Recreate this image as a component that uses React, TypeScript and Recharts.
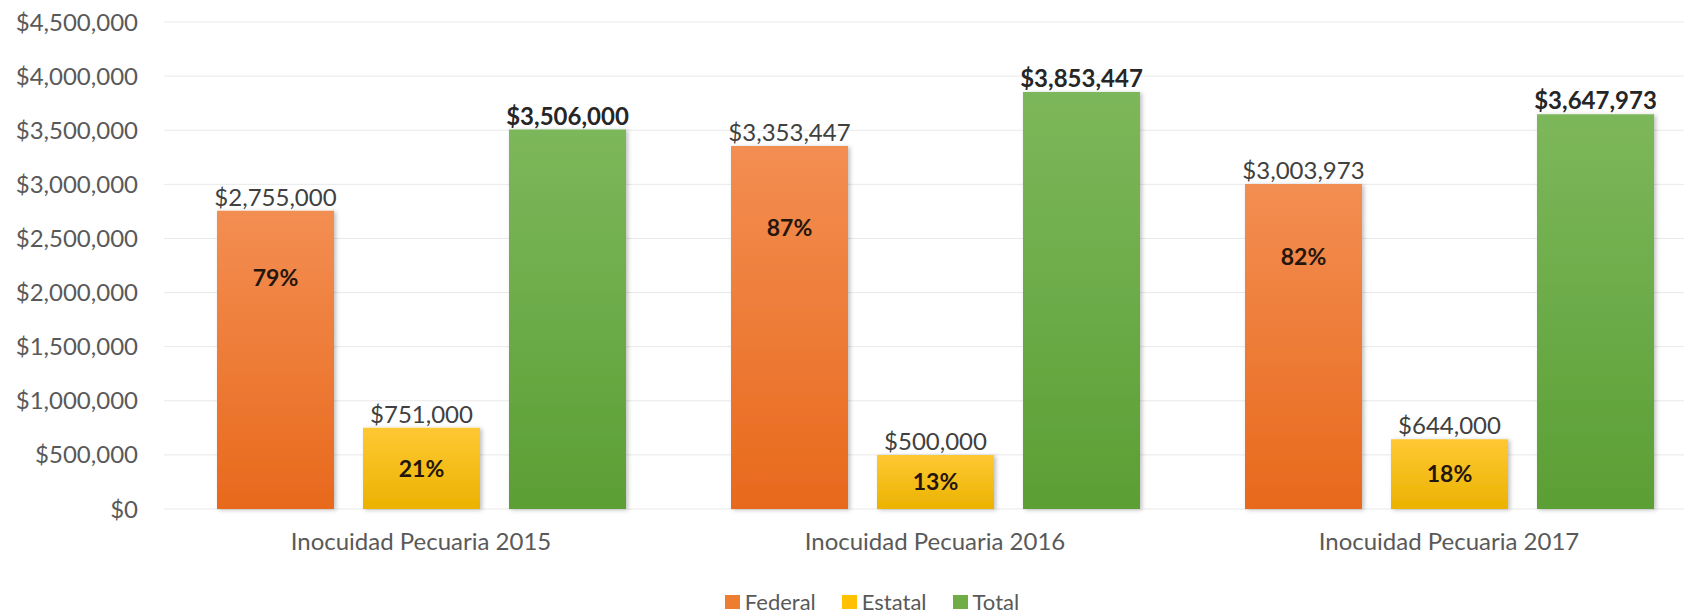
import { Bar, BarChart, CartesianGrid, LabelList, Legend, XAxis, YAxis } from 'recharts'

const categories = ['Inocuidad Pecuaria 2015', 'Inocuidad Pecuaria 2016', 'Inocuidad Pecuaria 2017']
const federal = [2755000, 3353447, 3003973]
const estatal = [751000, 500000, 644000]
const total = [3506000, 3853447, 3647973]
const federalPct = ['79%', '87%', '82%']
const estatalPct = ['21%', '13%', '18%']
const yTicks = [0, 500000, 1000000, 1500000, 2000000, 2500000, 3000000, 3500000, 4000000, 4500000]

const data = categories.map((name, i) => ({
  name,
  federal: federal[i],
  estatal: estatal[i],
  total: total[i],
  federalPct: federalPct[i],
  estatalPct: estatalPct[i],
}))

const FONT = 'Lato, "Noto Sans", sans-serif'
const GREY = '#595959'

const SERIES = [
  { key: 'federal', label: 'Federal', color: '#ED7D31' },
  { key: 'estatal', label: 'Estatal', color: '#FFC000' },
  { key: 'total', label: 'Total', color: '#70AD47' },
]

const money = (v: number) => '$' + Number(v).toLocaleString('en-US')

// value on top of each bar; totals are bold
const topLabel = (bold: boolean) => (props: any) => {
  const x = Number(props.x)
  const y = Number(props.y)
  const w = Number(props.width)
  return (
    <text
      x={x + w / 2}
      y={y - 5}
      textAnchor="middle"
      fontSize={24}
      fontFamily={FONT}
      fontWeight={bold ? 700 : 400}
      fill={bold ? '#262626' : '#404040'}
    >
      {money(props.value)}
    </text>
  )
}

// share label inside the bar, at a fraction of its height from the base
const pctLabel = (frac: number) => (props: any) => {
  const x = Number(props.x)
  const y = Number(props.y)
  const w = Number(props.width)
  const h = Number(props.height)
  return (
    <text
      x={x + w / 2}
      y={y + h * (1 - frac)}
      dy="0.36em"
      textAnchor="middle"
      fontSize={23}
      fontFamily={FONT}
      fontWeight={700}
      fill="#24160c"
    >
      {props.value}
    </text>
  )
}

function LegendContent() {
  return (
    <div
      style={{
        display: 'flex',
        justifyContent: 'center',
        alignItems: 'center',
        height: 24,
        fontFamily: FONT,
        fontSize: 22,
        color: GREY,
      }}
    >
      {SERIES.map((s) => (
        <div key={s.key} style={{ display: 'flex', alignItems: 'center', margin: '0 13px', height: 24 }}>
          <span style={{ width: 15, height: 14, background: s.color, marginRight: 5, display: 'inline-block' }} />
          <span style={{ lineHeight: '24px' }}>{s.label}</span>
        </div>
      ))}
    </div>
  )
}

export default function App() {
  return (
    <div style={{ margin: '-8px 0 0 -8px', width: 1692, height: 614, overflow: 'hidden', background: '#fff' }}>
      <BarChart
        width={1744}
        height={614}
        data={data}
        margin={{ top: 22, right: 38, bottom: 0, left: 0 }}
        barSize={117}
        barGap={29}
      >
        <defs>
          <linearGradient id="gFederal" x1="0" y1="0" x2="0" y2="1">
            <stop offset="0%" stopColor="#F38E52" />
            <stop offset="100%" stopColor="#E8691C" />
          </linearGradient>
          <linearGradient id="gEstatal" x1="0" y1="0" x2="0" y2="1">
            <stop offset="0%" stopColor="#FFC834" />
            <stop offset="100%" stopColor="#EBB300" />
          </linearGradient>
          <linearGradient id="gTotal" x1="0" y1="0" x2="0" y2="1">
            <stop offset="0%" stopColor="#7DB75B" />
            <stop offset="100%" stopColor="#5B9F34" />
          </linearGradient>
          <filter id="barShadow" x="-10%" y="-10%" width="130%" height="130%">
            <feDropShadow dx="2" dy="1" stdDeviation="2" floodColor="#000" floodOpacity="0.25" />
          </filter>
        </defs>
        <CartesianGrid vertical={false} stroke="#E9E9E9" />
        <XAxis
          dataKey="name"
          axisLine={false}
          tickLine={false}
          tickSize={0}
          tickMargin={24}
          height={81}
          interval={0}
          tick={{ fontSize: 24, fill: GREY, fontFamily: FONT }}
        />
        <YAxis
          width={164}
          domain={[0, 4500000]}
          ticks={yTicks}
          axisLine={false}
          tickLine={false}
          tickSize={0}
          tickMargin={26}
          tickFormatter={money}
          tick={{ fontSize: 24, fill: GREY, fontFamily: FONT }}
        />
        <Legend verticalAlign="bottom" content={LegendContent} wrapperStyle={{ left: 0, width: 1744 }} />
        <Bar dataKey="federal" name="Federal" fill="url(#gFederal)" filter="url(#barShadow)" isAnimationActive={false}>
          <LabelList dataKey="federal" content={topLabel(false)} />
          <LabelList dataKey="federalPct" content={pctLabel(0.775)} />
        </Bar>
        <Bar dataKey="estatal" name="Estatal" fill="url(#gEstatal)" filter="url(#barShadow)" isAnimationActive={false}>
          <LabelList dataKey="estatal" content={topLabel(false)} />
          <LabelList dataKey="estatalPct" content={pctLabel(0.5)} />
        </Bar>
        <Bar dataKey="total" name="Total" fill="url(#gTotal)" filter="url(#barShadow)" isAnimationActive={false}>
          <LabelList dataKey="total" content={topLabel(true)} />
        </Bar>
      </BarChart>
    </div>
  )
}
